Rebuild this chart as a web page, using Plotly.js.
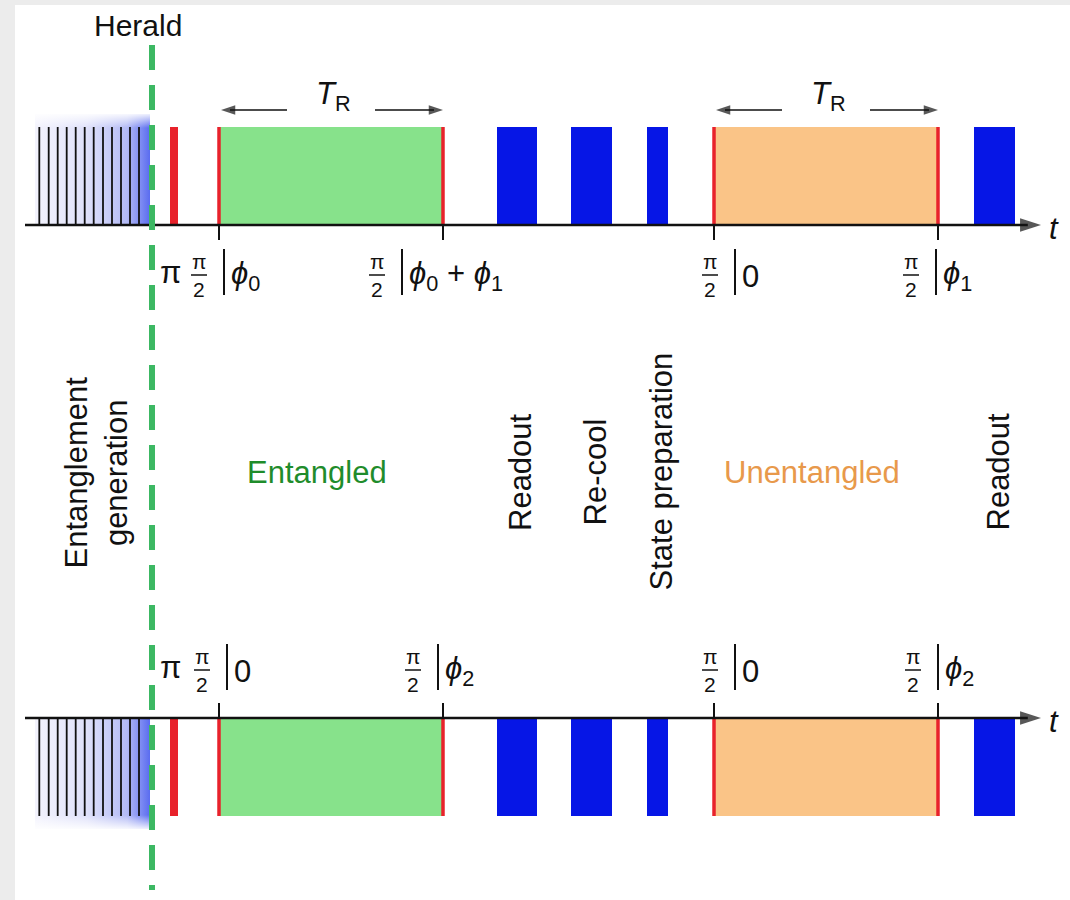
<!DOCTYPE html>
<html>
<head>
<meta charset="utf-8">
<script src="https://cdn.plot.ly/plotly-3.0.1.min.js"></script>
<style>html,body{margin:0;padding:0;background:#ececec;}#chart{width:1070px;height:900px;}</style>
</head>
<body>
<div id="chart"></div>
<script>
// ---------------- data (schematic time axis, arbitrary units) ----------------
const genWindow = [35, 150];                       // entanglement generation window
const genPulses = [39.3, 48.7, 57.7, 66.7, 75.7, 84.7, 93.7, 103, 112, 121, 130, 139];
const heraldTime = 152;
const piPulse = [170, 178];                         // pi pulse
const ramseyWindows = [[219, 443], [714, 938]];     // entangled, unentangled
const ramseyNames = ['Entangled', 'Unentangled'];
const bluePulses = [[497, 537], [571, 612], [647, 668], [974, 1015]];
const blueNames = ['Readout', 'Re-cool', 'State preparation', 'Readout'];
const pulseAngle = ['π', '2'];                      // pi / 2
const topPhases = ['<i>ϕ</i><sub>0</sub>', '<i>ϕ</i><sub>0</sub> + <i>ϕ</i><sub>1</sub>', '0', '<i>ϕ</i><sub>1</sub>'];
const botPhases = ['0', '<i>ϕ</i><sub>2</sub>', '0', '<i>ϕ</i><sub>2</sub>'];
const genLabel = 'Entanglement<br>generation';
const heraldLabel = 'Herald';
const periodLabel = '<i>T</i><sub>R</sub>';
const axisLabel = '<i>t</i>';

// ---------------- layout constants ----------------
const FONT = 'Liberation Sans, Arial, Helvetica, sans-serif';
const rows = [
  {base: 225, dir: -1, labelY: 272, phases: topPhases, barOff: [5, -41, 21, -2]},
  {base: 718, dir: 1, labelY: 667, phases: botPhases, barOff: [8, -5, 21, 0]}
];
const pulseH = 98, genBoxH = 111, fadeH = 14;
const C = {
  red: '#e8222b', green: '#87e28b', orange: '#fac487', blue: '#0616e6',
  herald: '#3cb863', gText: '#1f8c2b', oText: '#e8994b', black: '#111111'
};

const shapes = [];
const annotations = [];
const traces = [];
const heads = {x: [], y: [], angle: [], size: []};

function rect(x0, x1, y0, y1, color) {
  shapes.push({type: 'rect', xref: 'x', yref: 'y', x0: x0, x1: x1, y0: y0, y1: y1,
    fillcolor: color, line: {width: 0}});
}
function line(x0, y0, x1, y1, color, width, dash) {
  shapes.push({type: 'line', xref: 'x', yref: 'y', x0: x0, y0: y0, x1: x1, y1: y1,
    line: {color: color, width: width, dash: dash || 'solid'}});
}
function text(t, x, y, size, opts) {
  annotations.push(Object.assign({text: t, x: x, y: y, xref: 'x', yref: 'y', showarrow: false,
    font: {family: FONT, size: size, color: C.black}}, opts || {}));
}
// arrow: line from tail (ax) to tip (x) plus filled head marker
function arrow(x, y, ax, width, headSize) {
  const dirn = x > ax ? 1 : -1;
  line(ax, y, x - dirn * headSize * 0.6, y, C.black, width);
  heads.x.push(x); heads.y.push(y); heads.angle.push(dirn > 0 ? 90 : -90); heads.size.push(headSize);
}
function box(x0, x1, y0, y1) {
  return {x: [x0, x1, x1, x0, x0], y: [y0, y0, y1, y1, y0]};
}

rows.forEach(function (r) {
  const top = r.base + r.dir * pulseH;
  const boxEdge = r.base + r.dir * genBoxH;
  // generation window with gradient
  const b = box(genWindow[0], genWindow[1], r.base, boxEdge);
  traces.push({
    x: b.x, y: b.y, mode: 'lines', line: {width: 0}, fill: 'toself', hoverinfo: 'skip',
    fillgradient: {type: 'horizontal', colorscale: [[0, '#f3f3fd'], [0.45, '#dfe1fa'], [0.8, '#b3baf5'], [1, '#5a6cf0']]}
  });
  // soft outer edge of the generation window
  const f = box(genWindow[0], genWindow[1], boxEdge, boxEdge - r.dir * fadeH);
  traces.push({
    x: f.x, y: f.y, mode: 'lines', line: {width: 0}, fill: 'toself', hoverinfo: 'skip',
    fillgradient: {type: 'vertical', start: boxEdge, stop: boxEdge - r.dir * fadeH,
      colorscale: [[0, 'rgba(255,255,255,0.9)'], [1, 'rgba(255,255,255,0)']]}
  });
  genPulses.forEach(function (t) { line(t, r.base, t, top, C.black, 1.8); });
  // pi pulse
  rect(piPulse[0], piPulse[1], r.base, top, C.red);
  // Ramsey windows
  ramseyWindows.forEach(function (w, i) {
    rect(w[0], w[1], r.base, top, i === 0 ? C.green : C.orange);
    line(w[0], r.base, w[0], top, C.red, 3.5);
    line(w[1], r.base, w[1], top, C.red, 3.5);
  });
  // blue pulses
  bluePulses.forEach(function (p) { rect(p[0], p[1], r.base, top, C.blue); });
  // time axis
  arrow(1041, r.base, 25, 2.3, 22);
  text(axisLabel, 1054, r.base + 3, 31, {xanchor: 'center'});
  // ticks & phase labels
  const ticks = [ramseyWindows[0][0], ramseyWindows[0][1], ramseyWindows[1][0], ramseyWindows[1][1]];
  ticks.forEach(function (t, i) {
    line(t, r.base, t, r.base - r.dir * 15, C.black, 2);
    const bx = t + r.barOff[i];
    const yc = r.labelY;
    line(bx, yc - 23, bx, yc + 23, C.black, 2);
    text(pulseAngle[0], bx - 25, yc - 11, 21);
    line(bx - 33, yc + 3, bx - 17, yc + 3, C.black, 1.5);
    text(pulseAngle[1], bx - 25, yc + 17, 21);
    text(r.phases[i], bx + 5, yc + 4, 31, {xanchor: 'left'});
    if (i === 0) text('π', (piPulse[0] + piPulse[1]) / 2 - 4, yc, 31);
  });
});

// herald line
line(heraldTime, 45, heraldTime, 890, C.herald, 6, '25px,15px');
text(heraldLabel, heraldTime - 14, 25, 30);

// T_R period markers
ramseyWindows.forEach(function (w) {
  const mid = (w[0] + w[1]) / 2;
  text(periodLabel, mid + 2, 96, 31);
  arrow(w[0] + 2, 110, w[0] + 68, 1.7, 15);
  arrow(w[1], 110, w[1] - 68, 1.7, 15);
});

// arrow heads
traces.push({
  x: heads.x, y: heads.y, mode: 'markers', hoverinfo: 'skip',
  marker: {symbol: 'arrow', angle: heads.angle, size: heads.size, color: C.black, line: {width: 0}}
});

// stage labels
text(genLabel, (genWindow[0] + genWindow[1]) / 2 + 3, 473, 31, {textangle: -90});
ramseyWindows.forEach(function (w, i) {
  text(ramseyNames[i], (w[0] + w[1]) / 2 - 14, 472, 31,
    {font: {family: FONT, size: 31, color: i === 0 ? C.gText : C.oText}});
});
bluePulses.forEach(function (p, i) {
  text(blueNames[i], (p[0] + p[1]) / 2 + 3, 472, 31, {textangle: -90});
});

const layout = {
  width: 1070, height: 900,
  margin: {l: 15, r: 0, t: 5, b: 0, pad: 0},
  paper_bgcolor: '#ececec', plot_bgcolor: '#ffffff',
  showlegend: false,
  xaxis: {range: [15, 1070], visible: false, fixedrange: true},
  yaxis: {range: [900, 5], visible: false, fixedrange: true},
  shapes: shapes, annotations: annotations
};
Plotly.newPlot('chart', traces, layout, {displayModeBar: false, staticPlot: true});
</script>
</body>
</html>
